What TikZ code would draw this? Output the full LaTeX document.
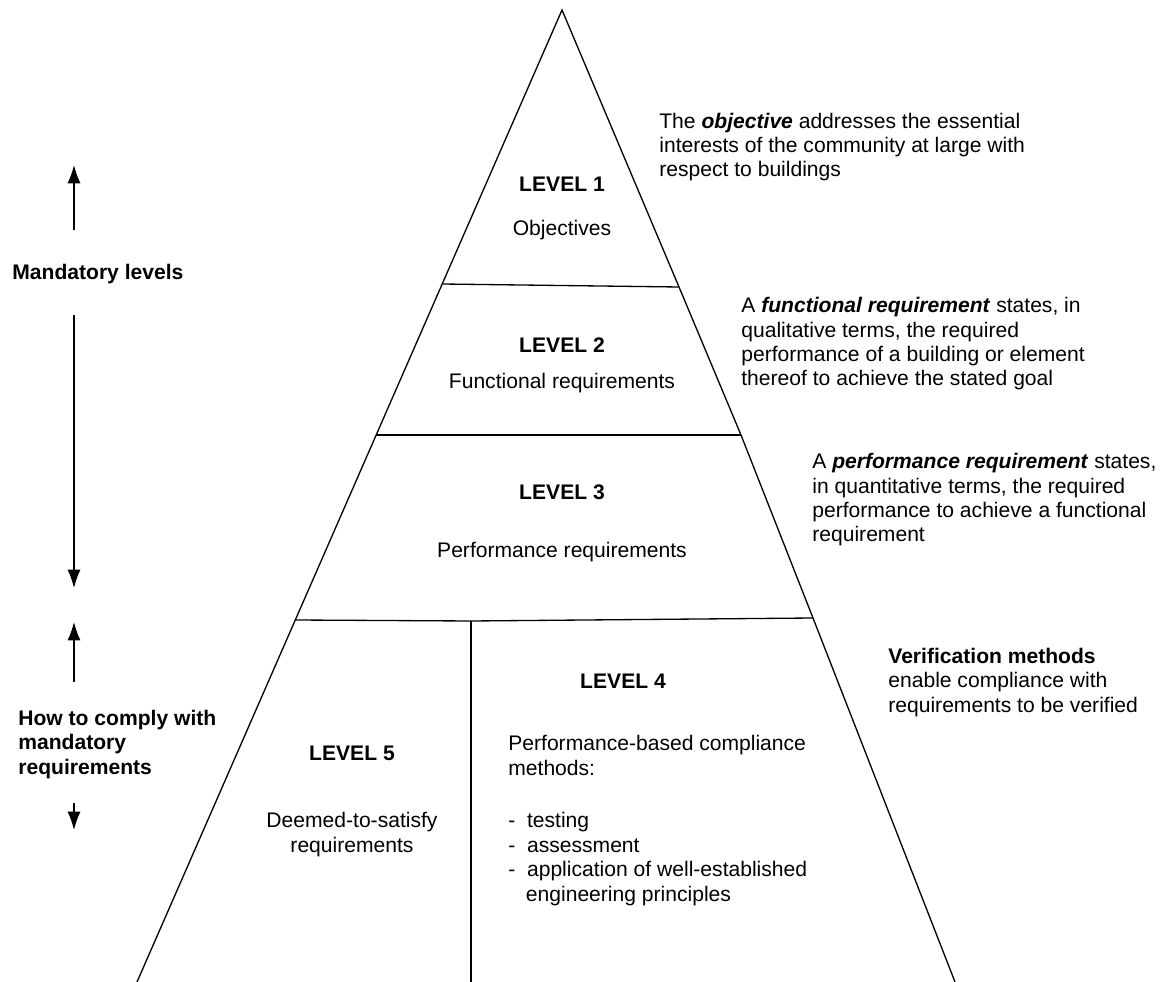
\documentclass[tikz,border=0pt]{standalone}
\usepackage{fontspec}
\setmainfont{Liberation Sans}
\usetikzlibrary{arrows.meta}
\newcommand{\diagfont}{\fontsize{12}{13.9}\selectfont}

\begin{document}
\begin{tikzpicture}
[x=0.02cm, y=-0.02cm,
 lineDecorate/.style={line width=0.75pt},
 arrowDecorate/.style={-{Latex[length=10.5pt,width=7.5pt]},line width=0.75pt},
 levelDecorate/.style={font=\diagfont\bfseries, anchor=base, inner sep=0pt},
 nameDecorate/.style={font=\diagfont, anchor=base, inner sep=0pt},
 textDecorate/.style={font=\diagfont, align=left, anchor=base west, inner sep=0pt}]

 \useasboundingbox (0,0) rectangle (1166,982);

 \coordinate (A) at (562,10);
 \coordinate (L1) at (442,284);
 \coordinate (R1) at (679,287);
 \coordinate (L2) at (376,435);
 \coordinate (R2) at (741,435);
 \coordinate (L3) at (295,620);
 \coordinate (R3) at (813,618);
 \coordinate (C) at (471,621);
 \coordinate (BL) at (137,982);
 \coordinate (BR) at (955,982);
 \coordinate (BC) at (471,982);

 \draw[lineDecorate] (BL) -- (A) -- (R1) -- (R2) -- (R3) -- (BR);
 \draw[lineDecorate] (L1) -- (R1);
 \draw[lineDecorate] (L2) -- (R2);
 \draw[lineDecorate] (L3) -- (C) -- (R3);
 \draw[lineDecorate] (C) -- (BC);

 \foreach \i/\a/\b/\t in {1/192/236/Objectives, 2/353/389/Functional requirements, 3/500/558/Performance requirements}
 {
          \node (V\i) at (562,\a) [levelDecorate] {LEVEL \i};
          \node (W\i) at (562,\b) [nameDecorate] {\t};
 }
 \node (V4) at (623,688) [levelDecorate] {LEVEL 4};
 \node (W4) at (508,901) [textDecorate] {Performance-based compliance\\methods:\\[16pt]
   -\ \ testing\\-\ \ assessment\\-\ \ application of well-established\\\ \ \ engineering principles};
 \node (V5) at (352,760) [levelDecorate] {LEVEL 5};
 \node (W5) at (352,852) [nameDecorate, align=center] {Deemed-to-satisfy\\requirements};

 \node (P1) at (659,177) [textDecorate] {The \textbf{\textit{objective}} addresses the essential\\interests of the community at large with\\respect to buildings};
 \node (P2) at (741,386) [textDecorate] {A \textbf{\textit{functional requirement}} states, in\\qualitative terms, the required\\performance of a building or element\\thereof to achieve the stated goal};
 \node (P3) at (812,542) [textDecorate] {A \textbf{\textit{performance requirement}} states,\\in quantitative terms, the required\\performance to achieve a functional\\requirement};
 \node (P4) at (888,712) [textDecorate] {\textbf{Verification methods}\\enable compliance with\\requirements to be verified};

 \node (M1) at (12,280) [textDecorate, font=\diagfont\bfseries] {Mandatory levels};
 \node (M2) at (18,774) [textDecorate, font=\diagfont\bfseries] {How to comply with\\mandatory\\requirements};

 \foreach \n/\a/\b in {1/230/165, 2/315/588, 3/682/622, 4/803/830}
 {
          \coordinate (S\n) at (74,\a);
          \coordinate (E\n) at (74,\b);
          \draw[arrowDecorate] (S\n) -- (E\n);
 }
\end{tikzpicture}
\end{document}
